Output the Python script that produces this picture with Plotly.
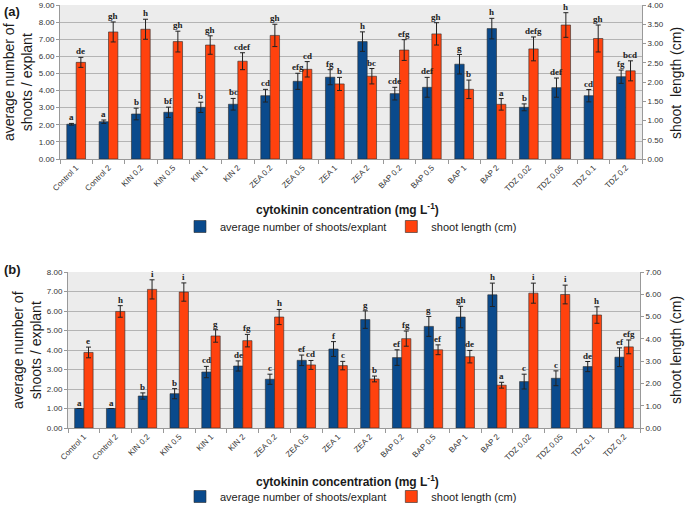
import plotly.graph_objects as go

categories = ["Control 1", "Control 2", "KIN 0.2", "KIN 0.5", "KIN 1", "KIN 2",
              "ZEA 0.2", "ZEA 0.5", "ZEA 1", "ZEA 2", "BAP 0.2", "BAP 0.5",
              "BAP 1", "BAP 2", "TDZ 0.02", "TDZ 0.05", "TDZ 0.1", "TDZ 0.2"]

# (a)
a_shoots = [2.03, 2.18, 2.63, 2.73, 3.02, 3.20, 3.70, 4.54, 4.78, 6.86, 3.82, 4.19,
            5.54, 7.62, 3.02, 4.17, 3.70, 4.81]
a_shoots_err = [0.05, 0.10, 0.34, 0.30, 0.30, 0.34, 0.37, 0.47, 0.44, 0.57, 0.37, 0.58,
                0.57, 0.60, 0.20, 0.56, 0.36, 0.39]
a_length = [2.51, 3.30, 3.37, 3.05, 2.96, 2.54, 3.21, 2.33, 1.95, 2.15, 2.83, 3.25,
            1.81, 1.42, 2.86, 3.48, 3.13, 2.29]
a_length_err = [0.13, 0.26, 0.26, 0.27, 0.24, 0.22, 0.29, 0.20, 0.17, 0.20, 0.27, 0.29,
                0.24, 0.15, 0.31, 0.32, 0.35, 0.26]
a_shoots_lbl = ["a", "a", "b", "bf", "b", "bc", "cd", "efg", "fg", "h", "cde", "def",
                "g", "h", "b", "def", "cd", "fg"]
a_length_lbl = ["de", "gh", "h", "gh", "gh", "cdef", "gh", "cd", "b", "bc", "efg", "gh",
                "b", "a", "defg", "h", "gh", "bcd"]

# (b)
b_shoots = [1.0, 1.0, 1.64, 1.76, 2.87, 3.18, 2.50, 3.47, 4.05, 5.56, 3.61, 5.21,
            5.69, 6.83, 2.38, 2.55, 3.15, 3.63]
b_shoots_err = [0.0, 0.0, 0.16, 0.26, 0.29, 0.26, 0.26, 0.27, 0.38, 0.45, 0.40, 0.51,
                0.55, 0.60, 0.38, 0.38, 0.26, 0.48]
b_length = [3.39, 5.23, 6.22, 6.10, 4.13, 3.92, 4.98, 2.83, 2.80, 2.20, 4.01, 3.51,
            3.20, 1.92, 6.05, 5.99, 5.07, 3.64]
b_length_err = [0.24, 0.26, 0.43, 0.41, 0.28, 0.28, 0.34, 0.20, 0.19, 0.13, 0.34, 0.22,
                0.28, 0.13, 0.45, 0.42, 0.37, 0.31]
b_shoots_lbl = ["a", "a", "b", "b", "cd", "de", "c", "ef", "f", "g", "ef", "g",
                "gh", "h", "c", "c", "de", "ef"]
b_length_lbl = ["e", "h", "i", "i", "g", "fg", "h", "cd", "c", "b", "fg", "ef",
                "de", "a", "i", "i", "h", "efg"]

BLUE = "#0a4a8c"
RED = "#ff420e"
EDGE = "#2b2b2b"
W = 0.29
FONT = "Liberation Sans"

fig = go.Figure()


def add_pair(xa, ya_left, ya_right, shoots, serr, length, lerr, legend):
    fig.add_trace(go.Bar(x=categories, y=shoots, name="average number of shoots/explant",
                         marker=dict(color=BLUE, line=dict(color=EDGE, width=0.6)),
                         width=W, offset=-W, xaxis=xa, yaxis=ya_left, legend=legend,
                         error_y=dict(type="data", array=serr, color="#222222",
                                      thickness=1, width=2.5)))
    fig.add_trace(go.Bar(x=categories, y=length, name="shoot length (cm)",
                         marker=dict(color=RED, line=dict(color=EDGE, width=0.6)),
                         width=W, offset=0, xaxis=xa, yaxis=ya_right, legend=legend,
                         error_y=dict(type="data", array=lerr, color="#222222",
                                      thickness=1, width=2.5)))


add_pair("x", "y", "y2", a_shoots, a_shoots_err, a_length, a_length_err, "legend")
add_pair("x2", "y3", "y4", b_shoots, b_shoots_err, b_length, b_length_err, "legend2")

ann = []


def add_letters(xref, yref, vals, errs, lbls, shift):
    for c, v, e, t in zip(categories, vals, errs, lbls):
        ann.append(dict(x=c, y=v + e, xref=xref, yref=yref, text="<b>%s</b>" % t,
                        showarrow=False, yanchor="bottom", xshift=shift, yshift=-1,
                        font=dict(family="Liberation Serif", size=9, color="#222222")))


add_letters("x", "y", a_shoots, a_shoots_err, a_shoots_lbl, -4.6)
add_letters("x", "y2", a_length, a_length_err, a_length_lbl, 4.6)
add_letters("x2", "y3", b_shoots, b_shoots_err, b_shoots_lbl, -4.6)
add_letters("x2", "y4", b_length, b_length_err, b_length_lbl, 4.6)


def paper_ann(text, xpx, ypx, size, angle=0, xanchor="center", bold=False):
    ann.append(dict(x=xpx / 685, y=1 - ypx / 505, xref="paper", yref="paper",
                    showarrow=False, text=("<b>%s</b>" % text) if bold else text,
                    textangle=angle, xanchor=xanchor, yanchor="middle",
                    font=dict(family=FONT, size=size, color="#1a1a1a")))


paper_ann("cytokinin concentration (mg L<sup>-1</sup>)", 348, 209, 12, bold=True)
paper_ann("cytokinin concentration (mg L<sup>-1</sup>)", 348, 481, 12, bold=True)
paper_ann("(a)", 2, 11, 13, xanchor="left", bold=True)
paper_ann("(b)", 2, 269, 13, xanchor="left", bold=True)
paper_ann("average number of<br>shoots / explant", 18, 82, 14, angle=-90)
paper_ann("average number of<br>shoots / explant", 27, 350, 14, angle=-90)
paper_ann("shoot  length (cm)", 676, 83, 14, angle=-90)
paper_ann("shoot length (cm)", 676, 350, 14, angle=-90)

tickfont = dict(family=FONT, size=8, color="#333333")
GRID = "#b4b4b4"
AX = "#999999"

xcommon = dict(type="category", tickangle=-45, tickfont=tickfont, ticks="outside",
               tickson="boundaries", ticklen=4, tickcolor=AX, showline=True,
               linecolor=AX, showgrid=False, fixedrange=True, automargin=False)
ycommon = dict(tickformat=".2f", tickfont=tickfont, ticks="outside", ticklen=3,
               tickcolor=AX, showline=True, linecolor=AX, zeroline=False,
               automargin=False)

fig.update_layout(
    width=685, height=505,
    margin=dict(l=0, r=0, t=0, b=0, autoexpand=False),
    paper_bgcolor="white", plot_bgcolor="#ececec",
    barmode="overlay",
    showlegend=True,
    annotations=ann,
    xaxis=dict(domain=[60 / 685, 642 / 685], anchor="y", **xcommon),
    yaxis=dict(domain=[1 - 159 / 505, 1 - 5 / 505], range=[0, 9], dtick=1,
               gridcolor=GRID, showgrid=True, anchor="x", **ycommon),
    yaxis2=dict(overlaying="y", side="right", range=[0, 4], dtick=0.5, showgrid=False,
                anchor="x", **ycommon),
    xaxis2=dict(domain=[68 / 685, 640 / 685], anchor="y3", **xcommon),
    yaxis3=dict(domain=[1 - 428 / 505, 1 - 272 / 505], range=[0, 8], dtick=1,
                gridcolor=GRID, showgrid=True, anchor="x2", **ycommon),
    yaxis4=dict(overlaying="y3", side="right", range=[0, 7], dtick=1, showgrid=False,
                anchor="x2", **ycommon),
    legend=dict(orientation="h", x=180 / 685, y=1 - 212 / 505, xanchor="left",
                yanchor="top", font=dict(family=FONT, size=11, color="#222"),
                itemwidth=30, bgcolor="rgba(0,0,0,0)"),
    legend2=dict(orientation="h", x=180 / 685, y=1 - 482 / 505, xanchor="left",
                 yanchor="top", font=dict(family=FONT, size=11, color="#222"),
                 itemwidth=30, bgcolor="rgba(0,0,0,0)"),
)

fig.write_html("out.html", config={"displayModeBar": False},
               post_script="document.body.style.margin='0';document.body.style.overflow='hidden';")
